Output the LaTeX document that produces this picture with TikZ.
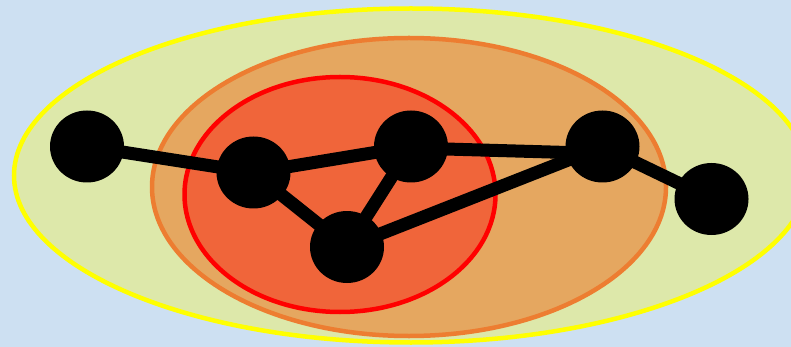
\documentclass[tikz,border=0pt]{standalone}
\definecolor{bgblue}{RGB}{205,224,242}
\definecolor{outerfill}{RGB}{221,232,170}
\definecolor{outerline}{RGB}{255,255,0}
\definecolor{midfill}{RGB}{229,167,96}
\definecolor{midline}{RGB}{237,125,49}
\definecolor{innerfill}{RGB}{240,101,58}
\definecolor{innerline}{RGB}{255,0,0}
\tikzset{
  vert/.style={ellipse, fill=black, minimum width=74pt, minimum height=72pt, inner sep=0pt},
  link/.style={line width=13pt, black}
}
\usetikzlibrary{shapes.geometric}
\begin{document}
\begin{tikzpicture}[x=1pt,y=-1pt]
\fill[bgblue] (0,0) rectangle (791,347);
\useasboundingbox (0,0) rectangle (791,347);
\draw[outerline, fill=outerfill, line width=4.5pt] (411,175.5) ellipse [x radius=397, y radius=167];
\draw[midline, fill=midfill, line width=4.5pt] (409,187) ellipse [x radius=257, y radius=149];
\draw[innerline, fill=innerfill, line width=4.5pt] (340,194.5) ellipse [x radius=155.5, y radius=117.5];
\node[vert] (a) at (87,146.5) {};
\node[vert] (b) at (253.5,172.5) {};
\node[vert] (c) at (411,146.5) {};
\node[vert] (d) at (347,247) {};
\node[vert] (e) at (602.5,146.5) {};
\node[vert] (f) at (711.5,199) {};
\draw[link] (a.center) -- (b.center);
\draw[link] (b.center) -- (c.center);
\draw[link] (b.center) -- (d.center);
\draw[link] (c.center) -- (d.center);
\draw[link] ([yshift=-1.5pt]c.center) -- ([yshift=-7pt]e.center);
\draw[link] (d.center) -- (e.center);
\draw[link] (e.center) -- (f.center);
\end{tikzpicture}
\end{document}
